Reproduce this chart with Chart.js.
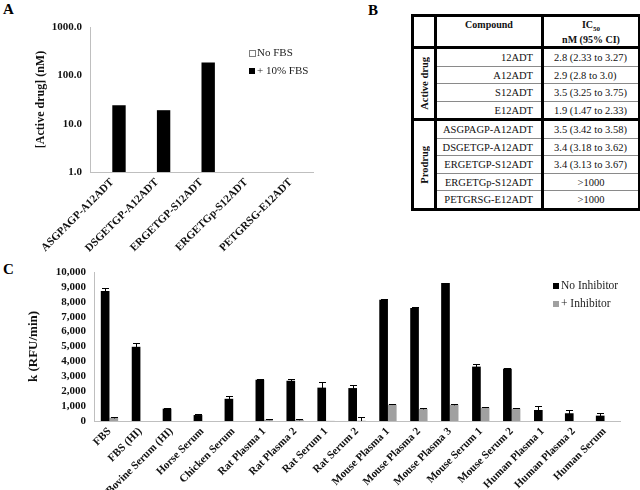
<!DOCTYPE html>
<html>
<head>
<meta charset="utf-8">
<script src="https://cdn.jsdelivr.net/npm/chart.js@4.4.1/dist/chart.umd.min.js"></script>
<style>
  body { margin: 0; background: #fff; width: 640px; height: 490px; position: relative; overflow: hidden; font-family: "Liberation Serif", "Times New Roman", serif; }
  .panel { position: absolute; font-weight: bold; font-size: 15px; color: #000; }
  .box { position: absolute; }
  table { position: absolute; left: 411px; top: 14px; width: 227px; border-collapse: collapse; table-layout: fixed; border: 3px solid #000; font-size: 10.5px; color: #111; }
  td, th { padding: 0; border: 1px solid #8a8a8a; height: 16.5px; }
  th { font-weight: bold; font-size: 10px; vertical-align: top; height: 25px; border-bottom: 3px solid #000; padding-top: 2px; line-height: 1.25; }
  .grp { border-right: 3px solid #000; font-weight: bold; font-size: 10.5px; text-align: center; }
  .grp div { writing-mode: vertical-rl; transform: rotate(180deg); white-space: nowrap; margin: auto; }
  .cmp { text-align: right; padding-right: 8px; border-right: 3px solid #000; }
  .ic { text-align: left; padding-left: 10px; }
  .ic.c { text-align: center; padding-left: 0; }
  tr.sep td { border-bottom: 3px solid #000; }
  sub { font-size: 7px; }
</style>
</head>
<body>
<div class="panel" style="left:3px;top:1px">A</div>
<div class="panel" style="left:368px;top:2px">B</div>
<div class="panel" style="left:3px;top:261px">C</div>

<div class="box" style="left:0;top:0"><canvas id="chartA" width="330" height="255"></canvas></div>
<div class="box" style="left:0;top:255px"><canvas id="chartC" width="640" height="235"></canvas></div>

<table id="tableB">
  <colgroup><col style="width:23px"><col style="width:107px"><col style="width:97px"></colgroup>
  <thead>
    <tr><th style="border-right:3px solid #000"></th><th style="border-right:3px solid #000">Compound</th><th>IC<sub>50</sub><br>nM (95% CI)</th></tr>
  </thead>
  <tbody id="tbody"></tbody>
</table>

<script>
// Panel A
const compoundsA = ['ASGPAGP-A12ADT', 'DSGETGP-A12ADT', 'ERGETGP-S12ADT', 'ERGETGp-S12ADT', 'PETGRSG-E12ADT'];
const noFbs = [null, null, null, null, null];
const withFbs = [24, 19, 185, null, null];
const ticksA = [1, 10, 100, 1000];

// Panel B
const activeCompounds = ['12ADT', 'A12ADT', 'S12ADT', 'E12ADT'];
const activeIC50 = ['2.8 (2.33 to 3.27)', '2.9 (2.8 to 3.0)', '3.5 (3.25 to 3.75)', '1.9 (1.47 to  2.33)'];
const prodrugCompounds = ['ASGPAGP-A12ADT', 'DSGETGP-A12ADT', 'ERGETGP-S12ADT', 'ERGETGp-S12ADT', 'PETGRSG-E12ADT'];
const prodrugIC50 = ['3.5 (3.42 to 3.58)', '3.4 (3.18 to 3.62)', '3.4 (3.13  to 3.67)', '>1000', '>1000'];

// Panel C
const samples = ['FBS', 'FBS (HI)', 'Bovine Serum (HI)', 'Horse Serum', 'Chicken Serum', 'Rat Plasma 1', 'Rat Plasma 2',
  'Rat Serum 1', 'Rat Serum 2', 'Mouse Plasma 1', 'Mouse Plasma 2', 'Mouse Plasma 3', 'Mouse Serum 1', 'Mouse Serum 2',
  'Human Plasma 1', 'Human Plasma 2', 'Human Serum'];
const noInhibitor = [8720, 4980, 830, 400, 1490, 2770, 2700, 2240, 2210, 8130, 7590, 9260, 3650, 3510, 740, 520, 360];
const noInhibitorErr = [200, 250, 70, 50, 200, 50, 150, 360, 180, 30, 30, 30, 180, 40, 300, 220, 160];
const inhibitor = [220, 0, 0, 0, 0, 90, 80, 10, 20, 1100, 810, 1090, 900, 830, 0, 0, 0];
const inhibitorErr = [50, 0, 0, 0, 0, 30, 30, 0, 250, 30, 30, 40, 30, 20, 0, 0, 0];

// build table B
const tbody = document.getElementById('tbody');
function addGroup(name, names, vals, last) {
  names.forEach((n, i) => {
    const tr = document.createElement('tr');
    if (i === names.length - 1 && !last) tr.className = 'sep';
    if (i === 0) {
      const g = document.createElement('td');
      g.className = 'grp';
      g.rowSpan = names.length;
      g.innerHTML = '<div>' + name + '</div>';
      if (!last) g.style.borderBottom = '3px solid #000';
      tr.appendChild(g);
    }
    const c = document.createElement('td');
    c.className = 'cmp';
    c.textContent = n;
    const v = document.createElement('td');
    v.className = vals[i].startsWith('>') ? 'ic c' : 'ic';
    v.textContent = vals[i];
    tr.appendChild(c);
    tr.appendChild(v);
    tbody.appendChild(tr);
  });
}
addGroup('Active drug', activeCompounds, activeIC50, false);
addGroup('Prodrug', prodrugCompounds, prodrugIC50, true);

const serif = '"Liberation Serif", "Times New Roman", serif';

// thousands separator (locale data may be missing in the renderer)
const withCommas = v => String(v).replace(/\B(?=(\d{3})+(?!\d))/g, ',');

// little legend drawn inside the plot
const boxLegend = {
  id: 'boxLegend',
  afterDraw(chart, args, opts) {
    const ctx = chart.ctx;
    ctx.save();
    ctx.font = opts.size + 'px ' + serif;
    ctx.textBaseline = 'middle';
    chart.data.datasets.forEach((ds, i) => {
      const x = opts.x, y = opts.y + i * opts.gap;
      ctx.fillStyle = ds.backgroundColor;
      ctx.fillRect(x - 3, y - 3, 6, 6);
      if (ds.backgroundColor === '#ffffff') {
        ctx.strokeStyle = '#7f7f7f';
        ctx.lineWidth = 1;
        ctx.strokeRect(x - 2.5, y - 2.5, 6, 6);
      }
      ctx.fillStyle = '#222';
      ctx.fillText(ds.label, x + 5, y);
    });
    ctx.restore();
  }
};

// error bars from dataset.errors
const errorBars = {
  id: 'errorBars',
  afterDatasetsDraw(chart) {
    const ctx = chart.ctx;
    const yS = chart.scales.y;
    ctx.save();
    ctx.strokeStyle = '#000';
    ctx.lineWidth = 1;
    chart.data.datasets.forEach((ds, i) => {
      if (!ds.errors) return;
      chart.getDatasetMeta(i).data.forEach((bar, j) => {
        const v = ds.data[j], e = ds.errors[j];
        if (v == null || !e) return;
        const x = Math.round(bar.x) + 0.5;
        const top = Math.round(yS.getPixelForValue(v + e)) + 0.5;
        const bot = yS.getPixelForValue(Math.max(v - e, 0));
        ctx.beginPath();
        ctx.moveTo(x, bot); ctx.lineTo(x, top);
        ctx.moveTo(x - 3.5, top); ctx.lineTo(x + 3.5, top);
        ctx.stroke();
      });
    });
    ctx.restore();
  }
};

Chart.defaults.font.family = serif;
Chart.defaults.color = '#222';
Chart.defaults.animation = false;

new Chart(document.getElementById('chartA'), {
  type: 'bar',
  data: {
    labels: compoundsA,
    datasets: [
      { label: 'No FBS', data: noFbs, backgroundColor: '#ffffff', borderColor: '#7f7f7f', borderWidth: 1 },
      { label: '+ 10% FBS', data: withFbs, backgroundColor: '#000000' }
    ]
  },
  options: {
    responsive: false,
    layout: { padding: { left: 0, top: 27, right: 17, bottom: 0 } },
    datasets: { bar: { categoryPercentage: 0.6, barPercentage: 1 } },
    plugins: {
      legend: { display: false },
      tooltip: { enabled: false },
      boxLegend: { x: 252, y: 53, gap: 18, size: 11 }
    },
    scales: {
      x: {
        grid: { display: false, drawTicks: false },
        border: { display: true, color: '#bfbfbf' },
        ticks: { autoSkip: false, minRotation: 45, maxRotation: 45, padding: 4, color: '#111', font: { size: 11, weight: 'bold' } },
        afterFit: s => { s.height = 83; }
      },
      y: {
        type: 'logarithmic',
        min: 1,
        max: 1000,
        grid: { display: false, drawTicks: false },
        border: { display: true, color: '#bfbfbf' },
        afterBuildTicks: s => { s.ticks = ticksA.map(v => ({ value: v })); },
        ticks: { padding: 8, color: '#111', font: { size: 11, weight: 'bold' }, callback: v => Number(v).toFixed(1) },
        title: { display: true, text: '[Active drug] (nM)', color: '#111', font: { size: 12, weight: 'bold' }, padding: { top: 34, bottom: 0 } },
        afterFit: s => { s.width = 90; }
      }
    }
  },
  plugins: [boxLegend]
});

new Chart(document.getElementById('chartC'), {
  type: 'bar',
  data: {
    labels: samples,
    datasets: [
      { label: 'No Inhibitor', data: noInhibitor, errors: noInhibitorErr, backgroundColor: '#000000' },
      { label: '+ Inhibitor', data: inhibitor, errors: inhibitorErr, backgroundColor: '#a0a0a0' }
    ]
  },
  options: {
    responsive: false,
    layout: { padding: { left: 0, top: 17, right: 20, bottom: 0 } },
    datasets: { bar: { categoryPercentage: 0.56, barPercentage: 1 } },
    plugins: {
      legend: { display: false },
      tooltip: { enabled: false },
      boxLegend: { x: 556, y: 31, gap: 18, size: 11.5 }
    },
    scales: {
      x: {
        grid: { display: false, drawTicks: false },
        border: { display: true, color: '#bfbfbf' },
        ticks: { autoSkip: false, minRotation: 45, maxRotation: 45, padding: 4, color: '#111', font: { size: 11, weight: 'bold' } },
        afterFit: s => { s.height = 69; }
      },
      y: {
        min: 0,
        max: 10000,
        grid: { display: false, drawTicks: false },
        border: { display: true, color: '#bfbfbf' },
        ticks: { autoSkip: false, stepSize: 1000, padding: 8, color: '#111', font: { size: 11, weight: 'bold' }, callback: v => withCommas(v) },
        title: { display: true, text: 'k (RFU/min)', color: '#111', font: { size: 13, weight: 'bold' }, padding: { top: 26, bottom: 0 } },
        afterFit: s => { s.width = 94; }
      }
    }
  },
  plugins: [errorBars, boxLegend]
});
</script>
</body>
</html>
